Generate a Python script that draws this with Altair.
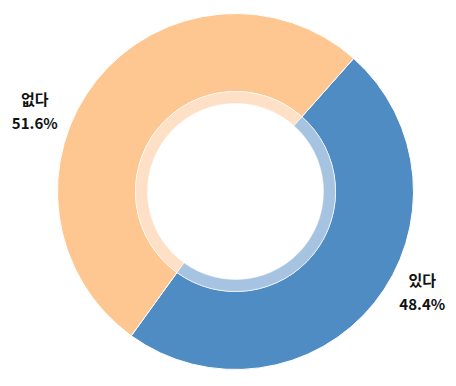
import math
import altair as alt
import pandas as pd

categories = ["있다", "없다"]
values = [48.4, 51.6]
main_colors = ["#4f8cc3", "#fec690"]
inner_colors = ["#a6c3e1", "#fee0c6"]

df = pd.DataFrame({
    "cat": categories,
    "value": values,
    "order": list(range(len(categories))),
    "main": main_colors,
    "inner": inner_colors,
    "label": [f"{c}\n{v}%" for c, v in zip(categories, values)],
})

a0 = math.radians(41.6)
a0t = math.radians(28.0)
cx, cy = 227.5, 183.5

theta = alt.Theta("value:Q", stack=True,
                  scale=alt.Scale(range=[a0, a0 + 2 * math.pi]))
order = alt.Order("order:Q")

outer = alt.Chart(df).mark_arc(outerRadius=178, innerRadius=100,
                               stroke="white", strokeWidth=1).encode(
    theta=theta, order=order,
    color=alt.Color("main:N", scale=None),
    x=alt.value(cx), y=alt.value(cy),
)

inner = alt.Chart(df).mark_arc(outerRadius=100, innerRadius=88,
                               stroke="white", strokeWidth=0.5).encode(
    theta=theta, order=order,
    color=alt.Color("inner:N", scale=None),
    x=alt.value(cx), y=alt.value(cy),
)

text = alt.Chart(df).mark_text(
    radius=214, dx=-7, dy=-1, font="Noto Sans CJK KR", fontWeight="bold",
    fontSize=15, lineBreak="\n", lineHeight=24, align="center",
    baseline="middle", color="#111111",
).encode(
    theta=alt.Theta("value:Q", stack=True,
                    scale=alt.Scale(range=[a0t, a0t + 2 * math.pi])),
    order=order,
    text="label:N",
    x=alt.value(cx), y=alt.value(cy),
)

chart = alt.layer(outer, inner, text).resolve_scale(
    theta="independent"
).properties(
    width=440, height=370, padding=0, autosize="none", background="white"
).configure_view(stroke=None)

chart.save("out.html", embed_options={"renderer": "svg", "actions": False})
